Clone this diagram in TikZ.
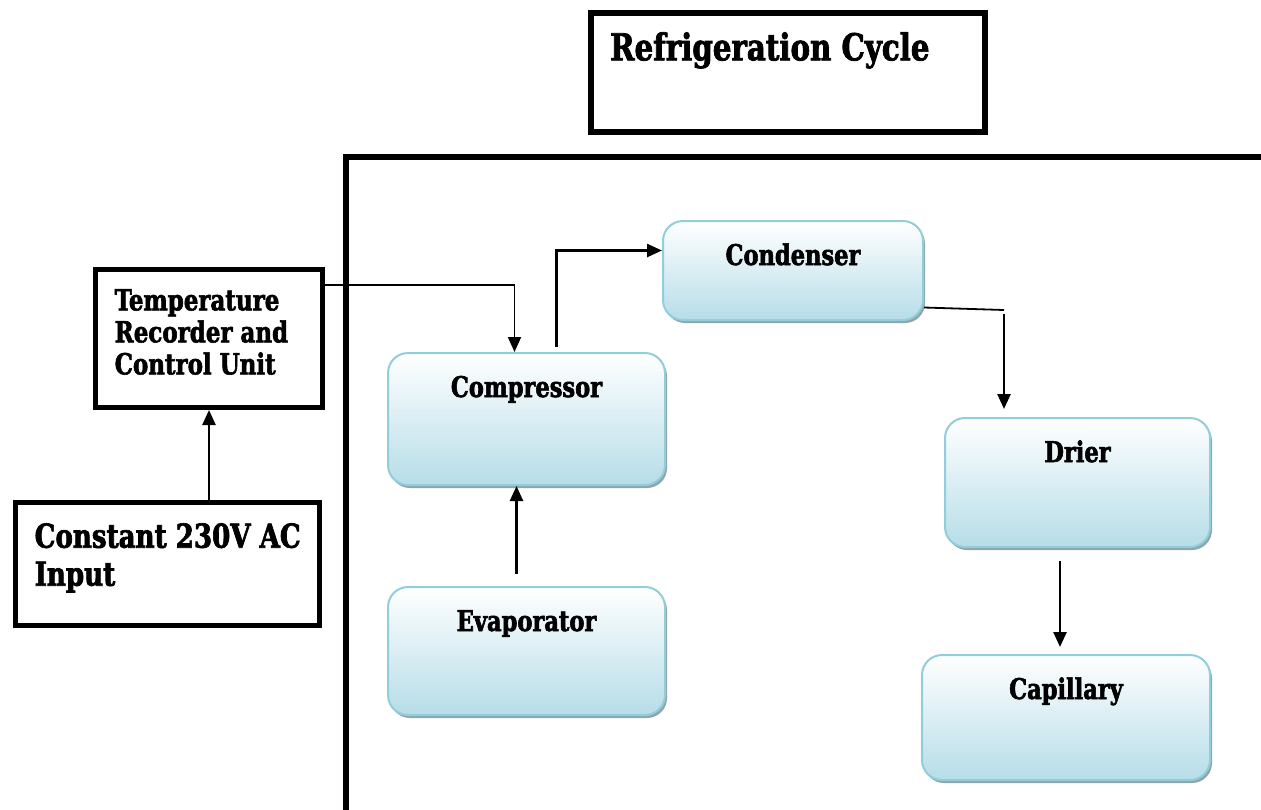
\documentclass[tikz,border=0pt]{standalone}
\usepackage{fontspec}
\setmainfont{DejaVu Serif Condensed}[FakeStretch=0.88, BoldFeatures={FakeBold=2}]
\usetikzlibrary{arrows.meta,shadows,positioning}

\definecolor{unitline}{HTML}{92CDDC}
\definecolor{unitfill}{HTML}{B6DDE8}
\definecolor{unitshade}{HTML}{8FA5AB}

\tikzset{
    frame/.style={draw, line width=5pt, inner sep=0pt},
    frametext/.style={anchor=north west, inner sep=0pt, align=left},
    unit/.style={draw=unitline, line width=2pt, rounded corners=20pt,
        top color=white, bottom color=unitfill,
        drop shadow={shadow xshift=2pt, shadow yshift=-3pt, fill=unitshade, opacity=1},
        inner sep=0pt, text height=44pt,
        font=\bfseries\fontsize{28.5}{32}\selectfont},
    flow/.style={line width=2.5pt, -{Triangle[width=13pt,length=15pt]}},
    feed/.style={line width=1.8pt}
}

\begin{document}
\begin{tikzpicture}[x=1pt,y=-1pt]
    \useasboundingbox (0,0) rectangle (1261,809);

    % outer frame of the cycle
    \draw[line width=6pt] (346,812) -- (346,157) -- (1265,157);

    % title
    \node[frame, line width=6pt, minimum width=394pt, minimum height=119pt] (title) at (788,72.5) {};
    \node[frametext, font=\bfseries\fontsize{37}{42}\selectfont]
        (titletext) at ([xshift=22pt,yshift=-22pt]title.north west) {Refrigeration Cycle};

    % control side
    \node[frame, minimum width=227pt, minimum height=138pt] (tcu) at (209,338.5) {};
    \node[frametext, font=\bfseries\fontsize{29}{32}\selectfont]
        (tcutext) at ([xshift=21.5pt,yshift=-22pt]tcu.north west)
        {Temperature\\Recorder and\\Control Unit};
    \node[frame, minimum width=304pt, minimum height=123pt] (supply) at (167.5,564) {};
    \node[frametext, font=\bfseries\fontsize{33}{38}\selectfont]
        (supplytext) at ([xshift=21.5pt,yshift=-23pt]supply.north west)
        {Constant 230V AC\\Input};

    % cycle units
    \node[unit, minimum width=277pt, text depth=88pt] (comp) at (526.5,419) {Compressor};
    \node[unit, minimum width=260pt, text depth=55pt] (cond) at (793,270.5) {Condenser};
    \node[unit, minimum width=265pt, text depth=85pt] (drier) at (1077.5,482.5) {Drier};
    \node[unit, minimum width=277pt, text depth=84pt] (evap) at (526.5,651) {Evaporator};
    \node[unit, minimum width=288pt, text depth=81pt] (cap) at (1066,717.5) {Capillary};

    \coordinate (bend) at (1004,310);

    % connections
    \draw[flow] (tcu.south |- supply.north) -- (tcu.south);
    \draw[feed, -{Triangle[width=13pt,length=15pt]}]
        ([yshift=-18pt]tcu.north east) -| ([xshift=-12pt]comp.north);
    \draw[flow] ([xshift=30pt,yshift=5pt]comp.north) |- ([yshift=20pt]cond.west);
    \draw[feed] ([yshift=-37pt]cond.east) -- (bend);
    \draw[flow, shorten >=8pt] ([yshift=-4pt]bend) -- (bend |- drier.north);
    \draw[flow, shorten <=13pt, shorten >=7pt]
        ([xshift=-17.5pt]drier.south) -- ([xshift=-17.5pt]drier.south |- cap.north);
    \draw[flow, shorten <=12pt] ([xshift=-10pt]evap.north) -- ([xshift=-10pt]comp.south);
\end{tikzpicture}
\end{document}
